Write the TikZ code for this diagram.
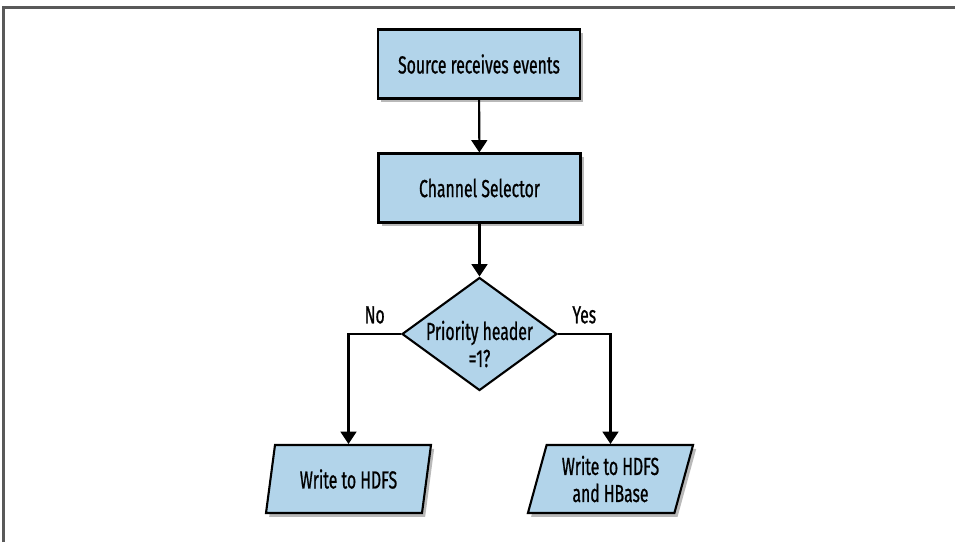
\documentclass[tikz,border=0pt]{standalone}
\usepackage{fontspec}
\setmainfont[FakeStretch=0.64, FakeBold=0.8]{Fira Sans}
\usetikzlibrary{shapes.geometric,shadows,arrows.meta,positioning}

\definecolor{boxblue}{RGB}{178,212,234}

\tikzset{
  procbox/.style={draw=black, line width=1.2pt, fill=boxblue, minimum width=4.04cm,
    minimum height=1.38cm, inner sep=0pt,
    drop shadow={shadow xshift=1.8pt, shadow yshift=-2.2pt, opacity=0.55}},
  decision/.style={draw=black, line width=1.2pt, fill=boxblue, shape=diamond,
    minimum width=3.1cm, minimum height=2.26cm, inner sep=0pt},
  iobox/.style={draw=black, line width=1.2pt, fill=boxblue, shape=trapezium,
    trapezium left angle=73, trapezium right angle=107, trapezium stretches=true,
    minimum width=3.32cm, minimum height=1.36cm, inner sep=0pt, align=center,
    drop shadow={shadow xshift=1.8pt, shadow yshift=-2.2pt, opacity=0.55}},
  flow/.style={line width=1.2pt, -{Triangle[width=9pt,length=7pt]}}
}

\begin{document}
\begin{tikzpicture}[font=\fontsize{14}{15.4}\selectfont]
    \useasboundingbox (0,0) rectangle (19.1,-10.84);

    % page frame
    \draw[black!65, line width=1.4pt] (0.07,-10.84) -- (0.07,-0.15) -- (19.1,-0.15);

    % steps
    \node[procbox] (source) at (9.58,-1.28) {Source receives events};
    \node[procbox] (selector) at (9.59,-3.76) {Channel Selector};

    % priority test
    \node[decision, label={[align=center, yshift=-0.2cm]center:Priority header\\=1?}] (prio) at (9.59,-6.68) {};

    % outputs
    \node[iobox] (hdfs) at (6.97,-9.58) {Write to HDFS};
    \node[iobox] (hbase) at (12.21,-9.58) {Write to HDFS\\and HBase};

    % connectors
    \draw[flow] (source) -- (selector);
    \draw[flow] (selector) -- (prio);
    \draw[flow] (prio.west) -| node[pos=0.25, above=2pt] {No} (hdfs.north);
    \draw[flow] (prio.east) -| node[pos=0.25, above=2pt] {Yes} (hbase.north);
\end{tikzpicture}
\end{document}
